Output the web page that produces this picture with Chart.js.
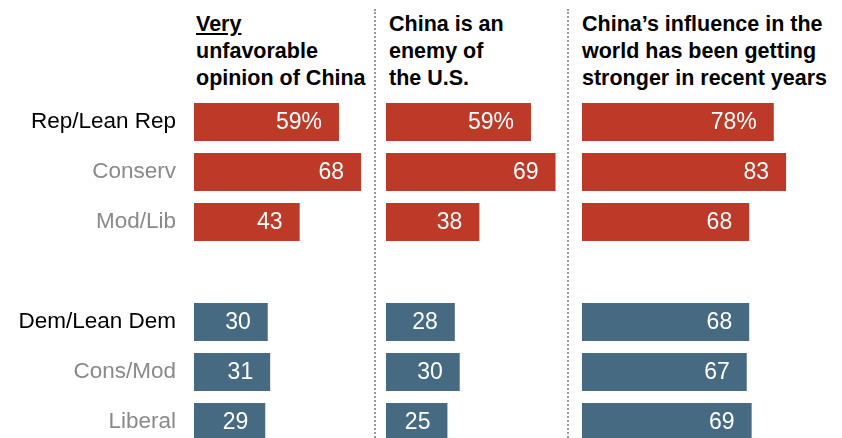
<!DOCTYPE html>
<html>
<head>
<meta charset="utf-8">
<script src="https://cdn.jsdelivr.net/npm/chart.js@4/dist/chart.umd.min.js"></script>
<style>
  body { margin: 0; width: 842px; height: 438px; overflow: hidden; background: #fff;
         font-family: 'Liberation Sans', Arial, sans-serif; position: relative; }
  canvas { position: absolute; top: 0; }
  .title { position: absolute; top: 11px; font-weight: bold; font-size: 21.5px;
           line-height: 27px; color: #000; white-space: nowrap; }
  .sep { position: absolute; top: 9px; height: 440px; border-left: 2px dotted #9a9a9a; }
</style>
</head>
<body>
<div class="title" style="left:196px"><u>Very</u><br>unfavorable<br>opinion of China</div>
<div class="title" style="left:389px">China is an<br>enemy of<br>the U.S.</div>
<div class="title" style="left:582px">China’s influence in the<br>world has been getting<br>stronger in recent years</div>
<div class="sep" style="left:374px"></div>
<div class="sep" style="left:567px"></div>

<canvas id="unfav" width="366" height="447" style="left:0"></canvas>
<canvas id="enemy" width="172" height="447" style="left:386px"></canvas>
<canvas id="influence" width="209" height="447" style="left:582px"></canvas>

<script>
const groups = ['Rep/Lean Rep', 'Conserv', 'Mod/Lib', '', 'Dem/Lean Dem', 'Cons/Mod', 'Liberal'];
const unfavorable = [59, 68, 43, null, 30, 31, 29];
const enemy = [59, 69, 38, null, 28, 30, 25];
const influence = [78, 83, 68, null, 68, 67, 69];

const RED = '#be3a28';
const BLUE = '#466a82';
const FONT = "'Liberation Sans', Arial, sans-serif";

// white numbers inside the right end of each bar, % on the first row
const valueLabels = {
  id: 'valueLabels',
  afterDatasetsDraw(chart) {
    const ctx = chart.ctx;
    const data = chart.data.datasets[0].data;
    ctx.save();
    ctx.font = '23px ' + FONT;
    ctx.fillStyle = '#fff';
    ctx.textAlign = 'right';
    ctx.textBaseline = 'middle';
    chart.getDatasetMeta(0).data.forEach((bar, i) => {
      if (data[i] == null) return;
      const txt = i === 0 ? data[i] + '%' : String(data[i]);
      ctx.fillText(txt, bar.x - 17, bar.y + 1);
    });
    ctx.restore();
  }
};

function makeChart(id, values, max, showLabels) {
  const yScale = {
    display: showLabels,
    grid: { display: false, drawTicks: false },
    border: { display: false },
    ticks: {
      padding: 18,
      font: { size: 22.5, family: FONT },
      color: c => (c.index === 0 || c.index === 4) ? '#000' : '#8a8a8a'
    }
  };
  if (showLabels) {
    // fixed label column; keep the rows on the same grid as the other panels
    yScale.afterFit = s => {
      s.width = 194;
      s.paddingTop = 0;
      s.paddingBottom = 0;
    };
  }
  return new Chart(document.getElementById(id), {
    type: 'bar',
    data: {
      labels: groups,
      datasets: [{
        data: values,
        backgroundColor: values.map((v, i) => i < 3 ? RED : BLUE),
        barPercentage: 0.76,
        categoryPercentage: 1
      }]
    },
    options: {
      indexAxis: 'y',
      responsive: false,
      animation: false,
      events: [],
      layout: { padding: { top: 97, bottom: 0, left: 0, right: 0 } },
      plugins: { legend: { display: false }, tooltip: { enabled: false } },
      scales: {
        x: { min: 0, max: max, display: false },
        y: yScale
      }
    },
    plugins: [valueLabels]
  });
}

makeChart('unfav', unfavorable, 70, true);
makeChart('enemy', enemy, 70, false);
makeChart('influence', influence, 85, false);
</script>
</body>
</html>
